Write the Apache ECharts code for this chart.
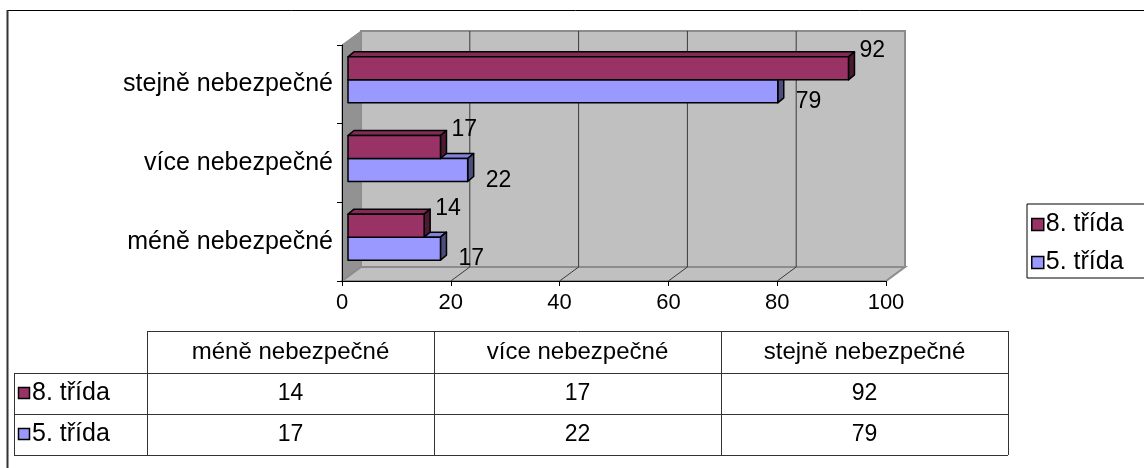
<!DOCTYPE html>
<html><head><meta charset="utf-8">
<script src="https://cdn.jsdelivr.net/npm/echarts@6/dist/echarts.min.js"></script>
<style>html,body{margin:0;padding:0;background:#fff}#c{width:1144px;height:468px}</style>
</head><body><div id="c"></div>
<script>
const categories = ['méně nebezpečné', 'více nebezpečné', 'stejně nebezpečné'];
const seriesNames = ['8. třída', '5. třída'];
const trida8 = [14, 17, 92];
const trida5 = [17, 22, 79];
const xTicks = [0, 20, 40, 60, 80, 100];

const FONT = '"Liberation Sans", Arial, sans-serif';
const colors = { '8. třída': '#993366', '5. třída': '#9999FF' };
const seriesData = { '8. třída': trida8, '5. třída': trida5 };

function shade(hex, f) {
  const n = parseInt(hex.slice(1), 16);
  const r = Math.round(((n >> 16) & 255) * f), g = Math.round(((n >> 8) & 255) * f), b = Math.round((n & 255) * f);
  return 'rgb(' + r + ',' + g + ',' + b + ')';
}

const WDX = 19, WDY = -14;

function renderWalls(params, api) {
  const cs = params.coordSys;
  const L = cs.x, T = cs.y, R = cs.x + cs.width, B = cs.y + cs.height;
  const ch = [];
  ch.push({ type: 'polygon', shape: { points: [[L + WDX, T + WDY], [R + WDX, T + WDY], [R + WDX, B + WDY], [L + WDX, B + WDY]] },
    style: { fill: '#c0c0c0', stroke: '#8c8c8c', lineWidth: 2 } });
  ch.push({ type: 'polygon', shape: { points: [[L, T], [L + WDX, T + WDY], [L + WDX, B + WDY], [L, B]] },
    style: { fill: '#929292', stroke: '#8c8c8c', lineWidth: 1 } });
  ch.push({ type: 'polygon', shape: { points: [[L, B], [R, B], [R + WDX, B + WDY], [L + WDX, B + WDY]] },
    style: { fill: '#c0c0c0', stroke: '#8c8c8c', lineWidth: 2 } });
  xTicks.forEach(function (v) {
    if (v === xTicks[0] || v === xTicks[xTicks.length - 1]) return;
    const x = api.coord([v, 0])[0];
    ch.push({ type: 'line', shape: { x1: x + WDX, y1: T + WDY, x2: x + WDX, y2: B + WDY }, style: { stroke: '#3a3a3a', lineWidth: 1 } });
    ch.push({ type: 'line', shape: { x1: x, y1: B, x2: x + WDX, y2: B + WDY }, style: { stroke: '#3a3a3a', lineWidth: 1 } });
  });
  return { type: 'group', children: ch };
}

function makeBarRender(name) {
  const upper = name === seriesNames[0];
  const col = colors[name];
  return function (params, api) {
    const v = api.value(0), ci = api.value(1);
    const p0 = api.coord([0, ci]), p1 = api.coord([v, ci]);
    const bandH = api.size([0, 1])[1];
    const h = bandH * 0.292;
    const fx = 6, fy = -4.5, ddx = 6, ddy = -5;
    const x0 = p0[0] + fx, x1 = p1[0] + fx;
    let yT, yB;
    if (upper) { yT = p0[1] - h + fy; yB = p0[1] + fy; }
    else { yT = p0[1] + fy; yB = p0[1] + h + fy; }
    const st = { stroke: '#000', lineWidth: 1.5, lineJoin: 'round' };
    const ch = [
      { type: 'polygon', shape: { points: [[x0, yT], [x1, yT], [x1 + ddx, yT + ddy], [x0 + ddx, yT + ddy]] }, style: Object.assign({ fill: shade(col, 0.85) }, st) },
      { type: 'polygon', shape: { points: [[x1, yT], [x1 + ddx, yT + ddy], [x1 + ddx, yB + ddy], [x1, yB]] }, style: Object.assign({ fill: shade(col, 0.5) }, st) },
      { type: 'rect', shape: { x: x0, y: yT, width: x1 - x0, height: yB - yT }, style: Object.assign({ fill: col }, st) }
    ];
    const lx = upper ? x1 + ddx + 5 : x1 + ddx + 12;
    const ly = upper ? yT - 6 : yB - 1;
    ch.push({ type: 'text', style: { text: String(v), x: lx, y: ly, font: '23px ' + FONT, fill: '#000', textAlign: 'left', textVerticalAlign: 'middle', align: 'left', verticalAlign: 'middle' } });
    return { type: 'group', children: ch };
  };
}

// Table (built from the data arrays)
const tbl = { left: 14, headLeft: 147, colW: 287, rows: [331, 373, 414, 455] };
const graphics = [];
function gline(x1, y1, x2, y2, c, w) { graphics.push({ type: 'line', shape: { x1: x1, y1: y1, x2: x2, y2: y2 }, style: { stroke: c || '#333', lineWidth: w || 1 }, silent: true }); }
function gtext(t, x, y, align, size) { graphics.push({ type: 'text', x: x, y: y, style: { text: t, font: (size || 20) + 'px ' + FONT, fill: '#000', textAlign: align || 'center', textVerticalAlign: 'middle', align: align || 'center', verticalAlign: 'middle' }, silent: true }); }
const tRight = tbl.headLeft + tbl.colW * categories.length;
gline(tbl.headLeft, tbl.rows[0] + 0.5, tRight, tbl.rows[0] + 0.5);
for (let r = 1; r < tbl.rows.length; r++) gline(tbl.left, tbl.rows[r] + 0.5, tRight, tbl.rows[r] + 0.5);
gline(tbl.left + 0.5, tbl.rows[1], tbl.left + 0.5, tbl.rows[3]);
for (let c = 0; c <= categories.length; c++) {
  const x = tbl.headLeft + tbl.colW * c + 0.5;
  gline(x, tbl.rows[0], x, tbl.rows[3]);
}
categories.forEach(function (cat, c) {
  gtext(cat, tbl.headLeft + tbl.colW * (c + 0.5), (tbl.rows[0] + tbl.rows[1]) / 2, 'center', 24);
});
seriesNames.forEach(function (name, r) {
  const cy = (tbl.rows[r + 1] + tbl.rows[r + 2]) / 2;
  graphics.push({ type: 'rect', shape: { x: tbl.left + 4.5, y: cy - 6, width: 11, height: 11 }, style: { fill: colors[name], stroke: '#000', lineWidth: 1.5 }, silent: true });
  gtext(name, tbl.left + 18, cy, 'left', 25);
  seriesData[name].forEach(function (v, c) {
    gtext(String(v), tbl.headLeft + tbl.colW * (c + 0.5), cy, 'center', 23);
  });
});
// outer chart-area border
gline(7, 10.5, 1144, 10.5, '#000', 1);
gline(7.5, 10, 7.5, 468, '#333', 2);

const chart = echarts.init(document.getElementById('c'));
chart.setOption({
  backgroundColor: '#fff',
  animation: false,
  textStyle: { fontFamily: FONT },
  grid: { left: 342, top: 45, width: 544, height: 236, containLabel: false },
  xAxis: {
    type: 'value', min: 0, max: 100, interval: 20, z: 10,
    axisLine: { show: true, lineStyle: { color: '#000', width: 1 } },
    axisTick: { show: true, length: 5, lineStyle: { color: '#000' } },
    splitLine: { show: false },
    axisLabel: { fontSize: 22, color: '#000', margin: 11, fontFamily: FONT }
  },
  yAxis: {
    type: 'category', data: categories, z: 10,
    axisLine: { show: true, lineStyle: { color: '#000', width: 1 } },
    axisTick: { show: true, length: 5, lineStyle: { color: '#000' } },
    axisLabel: { fontSize: 25, color: '#000', margin: 9, fontFamily: FONT }
  },
  legend: {
    data: seriesNames, orient: 'vertical', left: 1027, top: 204,
    itemWidth: 12, itemHeight: 12, itemGap: 13, icon: 'rect',
    padding: [8, 40, 3, 4], borderColor: '#000', borderWidth: 1,
    textStyle: { fontSize: 25, lineHeight: 25, color: '#000', fontFamily: FONT, padding: [0, 0, 0, -3] },
    itemStyle: { borderColor: '#000', borderWidth: 1.5 }
  },
  series: [
    { type: 'custom', name: 'walls', renderItem: renderWalls, data: [[0, 0]], encode: { x: 0, y: 1 }, z: 1, silent: true, clip: false },
    { type: 'custom', name: seriesNames[1], renderItem: makeBarRender(seriesNames[1]), data: trida5.map(function (v, i) { return [v, i]; }), encode: { x: 0, y: 1 }, z: 2, clip: false,
      itemStyle: { color: colors[seriesNames[1]], borderColor: '#000', borderWidth: 1.5 } },
    { type: 'custom', name: seriesNames[0], renderItem: makeBarRender(seriesNames[0]), data: trida8.map(function (v, i) { return [v, i]; }), encode: { x: 0, y: 1 }, z: 3, clip: false,
      itemStyle: { color: colors[seriesNames[0]], borderColor: '#000', borderWidth: 1.5 } }
  ],
  graphic: graphics
});
</script></body></html>
